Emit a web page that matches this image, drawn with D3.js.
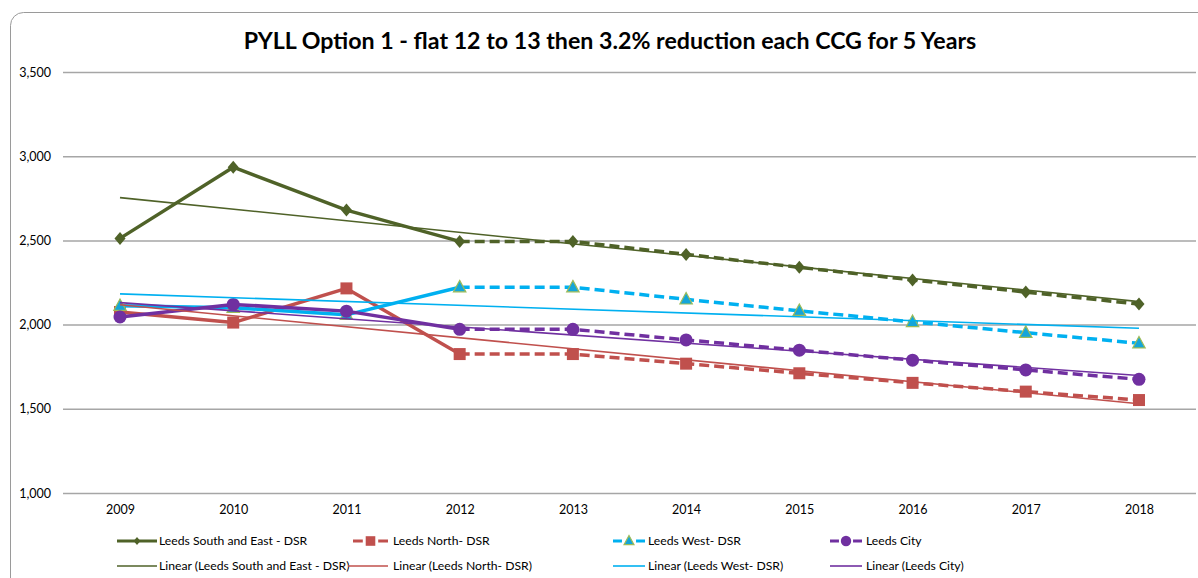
<!DOCTYPE html>
<html>
<head>
<meta charset="utf-8">
<script src="https://cdn.jsdelivr.net/npm/d3@7"></script>
<style>
  html, body { margin: 0; padding: 0; background: #fff; }
  svg { display: block; font-family: Lato, "Open Sans", sans-serif; }
</style>
</head>
<body>
<svg id="chart" width="1198" height="578"></svg>
<script>
// PYLL directly standardised rates by CCG, 2009-2018
const years = ["2009", "2010", "2011", "2012", "2013", "2014", "2015", "2016", "2017", "2018"];
const southEast = [2512, 2935, 2680, 2494, 2494, 2417, 2340, 2265, 2193, 2122];
const north     = [2075, 2012, 2215, 1825, 1825, 1768, 1711, 1654, 1602, 1552];
const west      = [2112, 2100, 2058, 2222, 2222, 2150, 2082, 2016, 1952, 1889];
const city      = [2045, 2120, 2080, 1972, 1972, 1909, 1848, 1789, 1731, 1675];
const yTicks    = [1000, 1500, 2000, 2500, 3000, 3500];
const splitYear = "2012"; // projection starts here (dashed after)

const title = "PYLL Option 1 - flat 12 to 13 then 3.2% reduction each CCG for 5 Years";

const series = [
  { name: "Leeds South and East - DSR", values: southEast, color: "#4F6228", marker: "diamond", dashedLegend: false },
  { name: "Leeds North- DSR", values: north, color: "#C0504D", marker: "square", dashedLegend: true },
  { name: "Leeds West- DSR", values: west, color: "#00B0F0", marker: "triangle", dashedLegend: true },
  { name: "Leeds City", values: city, color: "#7030A0", marker: "circle", dashedLegend: true }
];

const svg = d3.select("#chart");

// outer chart frame
svg.append("rect")
  .attr("x", 10.5).attr("y", 12.5)
  .attr("width", 1210).attr("height", 600)
  .attr("rx", 13).attr("ry", 13)
  .attr("fill", "#fff").attr("stroke", "#9A9A9A").attr("stroke-width", 1);

const x = d3.scalePoint().domain(years).range([63.4, 1195.6]).padding(0.5);
const y = d3.scaleLinear().domain([1000, 3500]).range([493, 72]);

// title
svg.append("text")
  .attr("x", 610).attr("y", 49)
  .attr("text-anchor", "middle")
  .attr("font-size", 23.2).attr("font-weight", "bold").attr("fill", "#000")
  .text(title);

// gridlines + y labels
const yAxis = d3.axisLeft(y).tickValues(yTicks).tickSize(-(1196 - 63)).tickFormat(d3.format(","));
const gy = svg.append("g").attr("transform", "translate(63,0)").call(yAxis);
gy.select(".domain").remove();
gy.selectAll(".tick line").attr("stroke", "#A6A6A6").attr("stroke-width", 1.5);
gy.selectAll(".tick text").attr("x", -12).attr("font-size", 12.5).attr("fill", "#000")
  .attr("font-family", "Lato, sans-serif");

// x labels
const xAxis = d3.axisBottom(x).tickSize(0).tickPadding(12);
const gx = svg.append("g").attr("transform", "translate(0,493)").call(xAxis);
gx.select(".domain").remove();
gx.selectAll(".tick text").attr("font-size", 12.5).attr("fill", "#000").attr("font-family", "Lato, sans-serif");

const line = d3.line().x(d => x(d.year)).y(d => y(d.value));

function markerPath(type, s) {
  switch (type) {
    case "diamond": return `M0,${-s}L${s * 0.85},0L0,${s}L${-s * 0.85},0Z`;
    case "square": return `M${-s},${-s}H${s}V${s}H${-s}Z`;
    case "triangle": return `M0,${-s * 1.1}L${s},${s * 0.75}L${-s},${s * 0.75}Z`;
    default: return null;
  }
}

// k scales the marker (1 on the plot, smaller in the legend)
function drawMarker(g, type, color, cx, cy, k = 1) {
  if (type === "circle") {
    g.append("circle").attr("cx", cx).attr("cy", cy).attr("r", 6.5 * k).attr("fill", color);
  } else if (type === "triangle") {
    g.append("path").attr("d", markerPath(type, 6.2 * k)).attr("transform", `translate(${cx},${cy})`)
      .attr("fill", "#14A5D9").attr("stroke", "#9BBB59").attr("stroke-width", 1.2);
  } else if (type === "square") {
    g.append("path").attr("d", markerPath(type, 6 * k)).attr("transform", `translate(${cx},${cy})`)
      .attr("fill", color);
  } else {
    g.append("path").attr("d", markerPath(type, 6.5 * k)).attr("transform", `translate(${cx},${cy})`)
      .attr("fill", color);
  }
}

const splitIdx = years.indexOf(splitYear);
const plot = svg.append("g");

series.forEach(s => {
  const pts = years.map((yr, i) => ({ year: yr, value: s.values[i] }));
  const g = plot.append("g");
  g.append("path").datum(pts.slice(0, splitIdx + 1)).attr("d", line)
    .attr("fill", "none").attr("stroke", s.color).attr("stroke-width", 3.5).attr("stroke-linejoin", "round");
  g.append("path").datum(pts.slice(splitIdx)).attr("d", line)
    .attr("fill", "none").attr("stroke", s.color).attr("stroke-width", 3.5)
    .attr("stroke-dasharray", "10,5");
  pts.forEach(p => drawMarker(g, s.marker, s.color, x(p.year), y(p.value)));
});

// linear trend lines (least squares fit over category index)
series.forEach(s => {
  const n = s.values.length;
  const xs = d3.range(1, n + 1);
  const mx = d3.mean(xs), my = d3.mean(s.values);
  const slope = d3.sum(xs, (xi, i) => (xi - mx) * (s.values[i] - my)) / d3.sum(xs, xi => (xi - mx) ** 2);
  const icpt = my - slope * mx;
  const pts = [
    { year: years[0], value: icpt + slope * 1 },
    { year: years[n - 1], value: icpt + slope * n }
  ];
  plot.append("path").datum(pts).attr("d", line)
    .attr("fill", "none").attr("stroke", s.color).attr("stroke-width", 1.6);
});

// legend
const legendCols = [117, 353, 613, 830];
const legendTextX = [159, 393, 648, 866];
const legendW = [40, 35, 32, 32];
const leg = svg.append("g").attr("font-size", 12.2).attr("fill", "#000");
series.forEach((s, i) => {
  const x0 = legendCols[i], w = legendW[i], cy1 = 541, cy2 = 566;
  leg.append("line").attr("x1", x0).attr("x2", x0 + w).attr("y1", cy1).attr("y2", cy1)
    .attr("stroke", s.color).attr("stroke-width", 3)
    .attr("stroke-dasharray", s.dashedLegend ? `${w * 0.28},${w * 0.44}` : null);
  drawMarker(leg, s.marker, s.color, x0 + w / 2, cy1, s.marker === "diamond" ? 0.6 : 0.8);
  leg.append("text").attr("x", legendTextX[i]).attr("y", cy1).attr("dy", "0.35em").text(s.name);
  leg.append("line").attr("x1", x0 - (i === 1 ? 5 : 0)).attr("x2", x0 + w).attr("y1", cy2).attr("y2", cy2)
    .attr("stroke", s.color).attr("stroke-width", 1.6);
  leg.append("text").attr("x", legendTextX[i]).attr("y", cy2).attr("dy", "0.35em").text(`Linear (${s.name})`);
});
</script>
</body>
</html>
